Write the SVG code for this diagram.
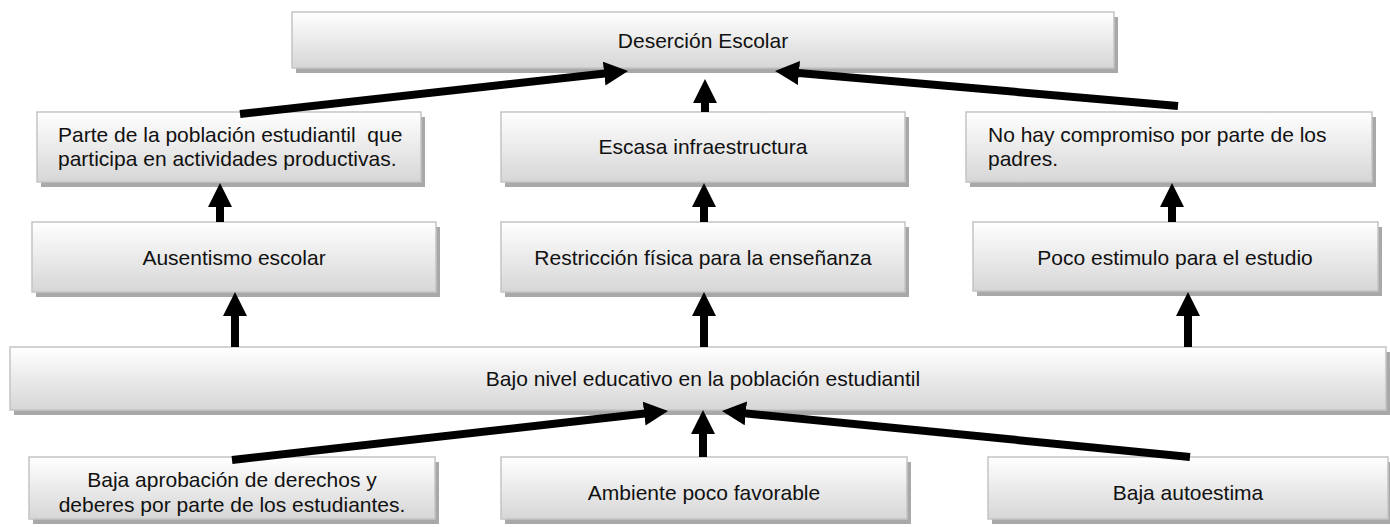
<svg xmlns="http://www.w3.org/2000/svg" width="1390" height="527" viewBox="0 0 1390 527">
<style>
.box{fill:url(#g);stroke:#c4c4c4;stroke-width:1.5}
.sh{fill:#a8a8a8}
text{font-family:"Liberation Sans",Arial,sans-serif;font-size:21px;fill:#111}
.c{text-anchor:middle}
.ar{stroke:#000;stroke-width:8;fill:none;marker-end:url(#ah)}
</style>
<defs>
<linearGradient id="g" x1="0" y1="0" x2="0" y2="1">
<stop offset="0" stop-color="#ffffff"/>
<stop offset="1" stop-color="#d6d6d6"/>
</linearGradient>
<marker id="ah" markerUnits="userSpaceOnUse" markerWidth="24" markerHeight="24" refX="12" refY="12" orient="auto" viewBox="0 0 24 24">
<path d="M0,0 L24,12 L0,24 Z" fill="#000"/>
</marker>
</defs>
<g id="n-top"><rect class="sh" x="296" y="17" width="822" height="56"/><rect class="box" x="292" y="12" width="822" height="56"/><text class="c" x="703" y="48">Deserción Escolar</text></g>
<g id="n-parte"><rect class="sh" x="41" y="117" width="384" height="70"/><rect class="box" x="37" y="112" width="384" height="70"/><text x="58" y="142">Parte de la población estudiantil&#160; que</text><text x="58" y="166">participa en actividades productivas.</text></g>
<g id="n-escasa"><rect class="sh" x="505" y="117" width="404" height="70"/><rect class="box" x="501" y="112" width="404" height="70"/><text class="c" x="703" y="154">Escasa infraestructura</text></g>
<g id="n-nohay"><rect class="sh" x="970" y="117" width="406" height="70"/><rect class="box" x="966" y="112" width="406" height="70"/><text x="988" y="142">No hay compromiso por parte de los</text><text x="988" y="166">padres.</text></g>
<g id="n-ausentismo"><rect class="sh" x="36" y="227" width="404" height="70"/><rect class="box" x="32" y="222" width="404" height="70"/><text class="c" x="234" y="265">Ausentismo escolar</text></g>
<g id="n-restriccion"><rect class="sh" x="505" y="227" width="404" height="70"/><rect class="box" x="501" y="222" width="404" height="70"/><text class="c" x="703" y="265">Restricción física para la enseñanza</text></g>
<g id="n-poco"><rect class="sh" x="977" y="227" width="405" height="69"/><rect class="box" x="973" y="222" width="405" height="69"/><text class="c" x="1175" y="265">Poco estimulo para el estudio</text></g>
<g id="n-bajo"><rect class="sh" x="14" y="352" width="1376" height="63"/><rect class="box" x="10" y="347" width="1376" height="63"/><text class="c" x="703" y="386">Bajo nivel educativo en la población estudiantil</text></g>
<g id="n-baja-aprob"><rect class="sh" x="33" y="462" width="406" height="62"/><rect class="box" x="29" y="457" width="406" height="62"/><text class="c" x="232" y="487">Baja aprobación de derechos y</text><text class="c" x="232" y="512">deberes por parte de los estudiantes.</text></g>
<g id="n-ambiente"><rect class="sh" x="505" y="462" width="406" height="62"/><rect class="box" x="501" y="457" width="406" height="62"/><text class="c" x="704" y="500">Ambiente poco favorable</text></g>
<g id="n-autoestima"><rect class="sh" x="992" y="462" width="400" height="62"/><rect class="box" x="988" y="457" width="400" height="62"/><text class="c" x="1188" y="500">Baja autoestima</text></g>
<g id="connectors">
<line class="ar" x1="240" y1="114" x2="616.1" y2="72.3"/>
<line class="ar" x1="705" y1="112" x2="705" y2="91"/>
<line class="ar" x1="1178" y1="106" x2="787" y2="72"/>
<line class="ar" x1="220" y1="222" x2="220" y2="195"/>
<line class="ar" x1="704" y1="222" x2="704" y2="195"/>
<line class="ar" x1="1172" y1="222" x2="1172" y2="195"/>
<line class="ar" x1="235" y1="347" x2="235" y2="304"/>
<line class="ar" x1="704" y1="347" x2="704" y2="304"/>
<line class="ar" x1="1188" y1="347" x2="1188" y2="304"/>
<line class="ar" x1="232" y1="460" x2="656.1" y2="412.3"/>
<line class="ar" x1="703" y1="457" x2="703" y2="422"/>
<line class="ar" x1="1190" y1="457" x2="733.9" y2="412.2"/>
</g>
</svg>
